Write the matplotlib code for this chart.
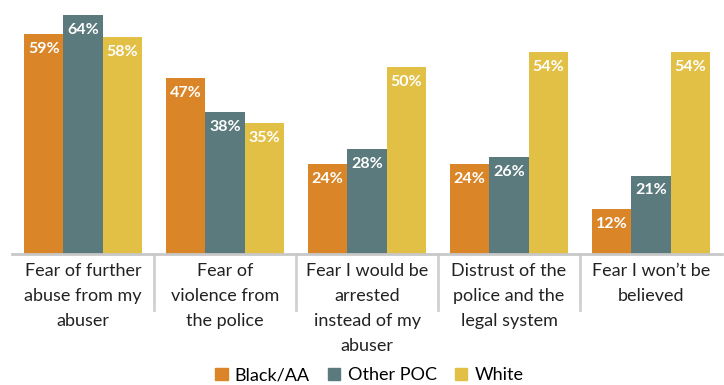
import matplotlib.pyplot as plt
import numpy as np
from matplotlib.patches import Patch

categories = [
    "Fear of further\nabuse from my\nabuser",
    "Fear of\nviolence from\nthe police",
    "Fear I would be\narrested\ninstead of my\nabuser",
    "Distrust of the\npolice and the\nlegal system",
    "Fear I won\u2019t be\nbelieved",
]
groups = ["Black/AA", "Other POC", "White"]
black_aa = [59, 47, 24, 24, 12]
other_poc = [64, 38, 28, 26, 21]
white = [58, 35, 50, 54, 54]
colors = ["#DA8528", "#5A7A7D", "#E2BF45"]

plt.rcParams["font.family"] = ["Lato", "DejaVu Sans"]

fig = plt.figure(figsize=(7.24, 3.85), dpi=100)
ax = fig.add_axes([12 / 724, 131 / 385, 710 / 724, 254 / 385])

x = np.arange(len(categories))
w = 0.277
for i, (vals, col) in enumerate(zip([black_aa, other_poc, white], colors)):
    pos = x + (i - 1) * w
    ax.bar(pos, vals, width=w, color=col, linewidth=0)
    for p, v in zip(pos, vals):
        ax.text(p, v - 4, f"{v}%", ha="center", va="center",
                color="white", fontsize=11.5, fontweight="bold")

ax.set_xlim(-0.5, len(categories) - 0.5)
ax.set_ylim(0, 68)
ax.set_yticks([])
ax.set_xticks([])
for s in ["top", "right", "left"]:
    ax.spines[s].set_visible(False)
ax.spines["bottom"].set_color("#c8c8c8")
ax.spines["bottom"].set_linewidth(2)

# category dividers below the axis
for b in x[:-1] + 0.5:
    ax.plot([b, b], [0, -15], color="#d0d0d0", lw=2, clip_on=False)

for xi, lab in zip(x, categories):
    ax.text(xi, -2.3, lab, ha="center", va="top", fontsize=13,
            color="#222222", linespacing=1.7)

handles = [Patch(color=c) for c in colors]
fig.legend(handles, groups, loc="center", ncol=3, frameon=False,
           fontsize=13, handlelength=0.7, handleheight=0.7,
           handletextpad=0.4, columnspacing=1.0,
           bbox_to_anchor=(0.51, 0.025))

fig.savefig("out.png", dpi=100)
